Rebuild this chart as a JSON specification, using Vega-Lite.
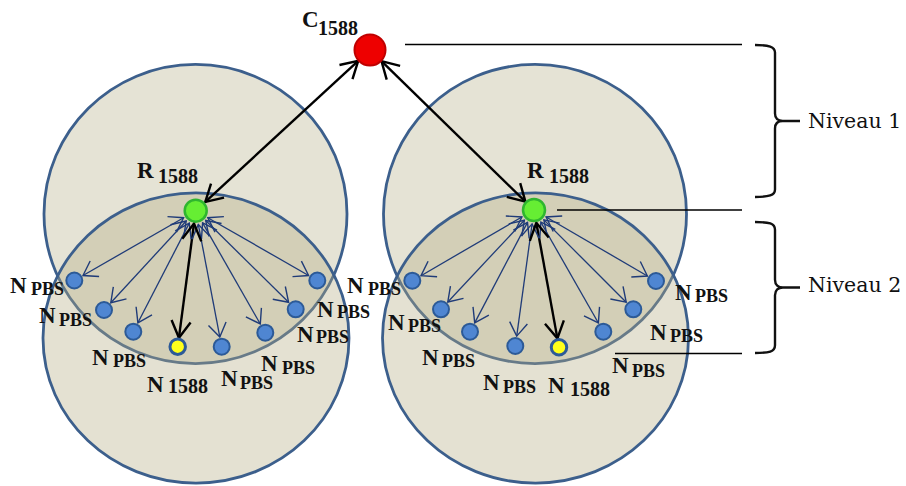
{
  "$schema": "https://vega.github.io/schema/vega-lite/v6.json",
  "width": 906,
  "height": 486,
  "padding": 0,
  "autosize": {"type": "none"},
  "background": "white",
  "config": {"view": {"stroke": null}},
  "datasets": {
    "circles": [
      {"g": "L", "part": "upper", "x": 195.5, "y": 214},
      {"g": "R", "part": "upper", "x": 535, "y": 214},
      {"g": "L", "part": "lower", "x": 196, "y": 338},
      {"g": "R", "part": "lower", "x": 535.5, "y": 338}
    ],
    "edges": [
      {"kind": "navy", "x1": 183.6, "y1": 217.7, "x2": 83.0, "y2": 275.5},
      {"kind": "navy", "x1": 186.2, "y1": 221.0, "x2": 110.8, "y2": 302.7},
      {"kind": "navy", "x1": 189.3, "y1": 223.1, "x2": 137.9, "y2": 322.8},
      {"kind": "navy", "x1": 198.3, "y1": 224.4, "x2": 219.8, "y2": 336.9},
      {"kind": "navy", "x1": 202.6, "y1": 222.9, "x2": 260.3, "y2": 324.0},
      {"kind": "navy", "x1": 205.7, "y1": 220.5, "x2": 288.6, "y2": 302.3},
      {"kind": "navy", "x1": 207.8, "y1": 217.7, "x2": 308.6, "y2": 275.5},
      {"kind": "navy", "x1": 521.9, "y1": 217.0, "x2": 421.0, "y2": 275.7},
      {"kind": "navy", "x1": 524.4, "y1": 220.2, "x2": 447.8, "y2": 302.0},
      {"kind": "navy", "x1": 527.5, "y1": 222.4, "x2": 474.7, "y2": 322.9},
      {"kind": "navy", "x1": 532.1, "y1": 223.9, "x2": 516.7, "y2": 336.1},
      {"kind": "navy", "x1": 540.9, "y1": 222.2, "x2": 598.4, "y2": 323.0},
      {"kind": "navy", "x1": 543.9, "y1": 219.9, "x2": 626.2, "y2": 302.2},
      {"kind": "navy", "x1": 546.1, "y1": 217.0, "x2": 647.4, "y2": 276.0},
      {"kind": "black", "x1": 194.0, "y1": 223.6, "x2": 178.9, "y2": 337.8},
      {"kind": "black", "x1": 536.3, "y1": 222.8, "x2": 557.4, "y2": 338.4},
      {"kind": "black", "x1": 358.2, "y1": 60.8, "x2": 205.3, "y2": 201.9},
      {"kind": "black", "x1": 381.5, "y1": 61.2, "x2": 525.4, "y2": 201.6}
    ],
    "hlines": [
      {"x1": 405, "y1": 44.5, "x2": 742, "y2": 44.5},
      {"x1": 557, "y1": 210, "x2": 742, "y2": 210},
      {"x1": 615, "y1": 353.5, "x2": 742, "y2": 353.5}
    ],
    "nodes": [
      {"type": "pbs", "x": 74.3, "y": 280.5},
      {"type": "pbs", "x": 104, "y": 310},
      {"type": "pbs", "x": 133.3, "y": 331.7},
      {"type": "pbs", "x": 221.7, "y": 346.7},
      {"type": "pbs", "x": 265.3, "y": 332.7},
      {"type": "pbs", "x": 295.7, "y": 309.3},
      {"type": "pbs", "x": 317.3, "y": 280.5},
      {"type": "pbs", "x": 412.3, "y": 280.7},
      {"type": "pbs", "x": 441, "y": 309.3},
      {"type": "pbs", "x": 470, "y": 331.7},
      {"type": "pbs", "x": 515.3, "y": 346},
      {"type": "pbs", "x": 603.3, "y": 331.7},
      {"type": "pbs", "x": 633.3, "y": 309.3},
      {"type": "pbs", "x": 656, "y": 281},
      {"type": "n1588", "x": 177.7, "y": 346.7},
      {"type": "n1588", "x": 559, "y": 347.3},
      {"type": "r", "x": 195.7, "y": 210.7},
      {"type": "r", "x": 534, "y": 210},
      {"type": "c", "x": 370, "y": 50}
    ],
    "braces": [
      {"id": 1, "x": 775, "y": 121},
      {"id": 2, "x": 775, "y": 287.5}
    ],
    "labels": [
      {"t": "N", "r": "main", "x": 10, "y": 293}, {"t": "PBS", "r": "sub", "x": 31, "y": 295},
      {"t": "N", "r": "main", "x": 39, "y": 323}, {"t": "PBS", "r": "sub", "x": 59, "y": 326},
      {"t": "N", "r": "main", "x": 92, "y": 365}, {"t": "PBS", "r": "sub", "x": 113, "y": 367},
      {"t": "N", "r": "main", "x": 147, "y": 392}, {"t": "1588", "r": "num", "x": 168, "y": 393},
      {"t": "N", "r": "main", "x": 221, "y": 386}, {"t": "PBS", "r": "sub", "x": 240, "y": 389},
      {"t": "N", "r": "main", "x": 261, "y": 371}, {"t": "PBS", "r": "sub", "x": 282, "y": 374},
      {"t": "N", "r": "main", "x": 297, "y": 342}, {"t": "PBS", "r": "sub", "x": 316, "y": 343},
      {"t": "N", "r": "main", "x": 317, "y": 317}, {"t": "PBS", "r": "sub", "x": 337, "y": 318},
      {"t": "N", "r": "main", "x": 347, "y": 293}, {"t": "PBS", "r": "sub", "x": 368, "y": 295},
      {"t": "N", "r": "main", "x": 388, "y": 330}, {"t": "PBS", "r": "sub", "x": 408, "y": 332},
      {"t": "N", "r": "main", "x": 422, "y": 365}, {"t": "PBS", "r": "sub", "x": 442, "y": 367},
      {"t": "N", "r": "main", "x": 483, "y": 390}, {"t": "PBS", "r": "sub", "x": 503, "y": 393},
      {"t": "N", "r": "main", "x": 548, "y": 393}, {"t": "1588", "r": "num", "x": 570, "y": 396},
      {"t": "N", "r": "main", "x": 612, "y": 373}, {"t": "PBS", "r": "sub", "x": 632, "y": 377},
      {"t": "N", "r": "main", "x": 650, "y": 340}, {"t": "PBS", "r": "sub", "x": 670, "y": 342},
      {"t": "N", "r": "main", "x": 675, "y": 300}, {"t": "PBS", "r": "sub", "x": 695, "y": 302},
      {"t": "R", "r": "main", "x": 137, "y": 178}, {"t": "1588", "r": "num", "x": 158, "y": 183},
      {"t": "R", "r": "main", "x": 527, "y": 178}, {"t": "1588", "r": "num", "x": 549, "y": 183},
      {"t": "C", "r": "main", "x": 302, "y": 27}, {"t": "1588", "r": "num", "x": 318, "y": 35},
      {"t": "Niveau 1", "r": "level", "x": 808, "y": 128},
      {"t": "Niveau 2", "r": "level", "x": 808, "y": 292}
    ]
  },
  "layer": [
    {
      "data": {"name": "circles"},
      "transform": [{"filter": "datum.part === 'upper'"}],
      "mark": {"type": "point", "shape": "M -1 0 C -1 -0.545 -0.5523 -0.987 0 -0.987 C 0.5523 -0.987 1 -0.545 1 0 C 1 0.545 0.5523 0.987 0 0.987 C -0.5523 0.987 -1 0.545 -1 0 Z", "size": 91809, "filled": true, "fill": "#e5e3d5", "stroke": "#3c5f8c", "strokeWidth": 2.8, "opacity": 1},
      "encoding": {
        "x": {"field": "x", "type": "quantitative", "scale": {"domain": [0, 906], "nice": false, "zero": false}, "axis": null},
        "y": {"field": "y", "type": "quantitative", "scale": {"domain": [0, 486], "nice": false, "zero": false, "reverse": true}, "axis": null}
      }
    },
    {
      "data": {"name": "circles"},
      "transform": [{"filter": "datum.part === 'lower'"}],
      "mark": {"type": "point", "shape": "M -1 0 C -1 -0.5236 -0.5523 -0.948 0 -0.948 C 0.5523 -0.948 1 -0.5236 1 0 C 1 0.5236 0.5523 0.948 0 0.948 C -0.5523 0.948 -1 0.5236 -1 0 Z", "size": 93636, "filled": true, "fill": "#b3ab82", "fillOpacity": 0.36, "stroke": "#3c5f8c", "strokeOpacity": 1, "strokeWidth": 2.8, "opacity": 1},
      "encoding": {
        "x": {"field": "x", "type": "quantitative"},
        "y": {"field": "y", "type": "quantitative"}
      }
    },
    {
      "data": {"name": "edges"},
      "transform": [{"filter": "datum.kind === 'navy'"}],
      "mark": {"type": "rule", "color": "#1f3b78", "strokeWidth": 1.3},
      "encoding": {
        "x": {"field": "x1", "type": "quantitative"},
        "y": {"field": "y1", "type": "quantitative"},
        "x2": {"field": "x2"},
        "y2": {"field": "y2"}
      }
    },
    {
      "data": {"name": "edges"},
      "transform": [{"filter": "datum.kind === 'black'"}],
      "mark": {"type": "rule", "color": "#000000", "strokeWidth": 2.4},
      "encoding": {
        "x": {"field": "x1", "type": "quantitative"},
        "y": {"field": "y1", "type": "quantitative"},
        "x2": {"field": "x2"},
        "y2": {"field": "y2"}
      }
    },
    {
      "data": {"name": "hlines"},
      "mark": {"type": "rule", "color": "#000000", "strokeWidth": 1.3},
      "encoding": {
        "x": {"field": "x1", "type": "quantitative"},
        "y": {"field": "y1", "type": "quantitative"},
        "x2": {"field": "x2"},
        "y2": {"field": "y2"}
      }
    },
    {
      "data": {"name": "edges"},
      "transform": [
        {"filter": "datum.kind === 'navy'"},
        {"calculate": "atan2(datum.x2 - datum.x1, datum.y1 - datum.y2) * 180 / PI", "as": "a"}
      ],
      "mark": {"type": "point", "shape": "M -0.8 1.2 L 0 0 L 0.8 1.2", "size": 500, "filled": false, "stroke": "#1f3b78", "strokeWidth": 1.4, "opacity": 1},
      "encoding": {
        "x": {"field": "x2", "type": "quantitative"},
        "y": {"field": "y2", "type": "quantitative"},
        "angle": {"field": "a", "type": "quantitative", "scale": null}
      }
    },
    {
      "data": {"name": "edges"},
      "transform": [
        {"filter": "datum.kind === 'navy'"},
        {"calculate": "atan2(datum.x1 - datum.x2, datum.y2 - datum.y1) * 180 / PI", "as": "a"}
      ],
      "mark": {"type": "point", "shape": "M -0.8 1.2 L 0 0 L 0.8 1.2", "size": 500, "filled": false, "stroke": "#1f3b78", "strokeWidth": 1.4, "opacity": 1},
      "encoding": {
        "x": {"field": "x1", "type": "quantitative"},
        "y": {"field": "y1", "type": "quantitative"},
        "angle": {"field": "a", "type": "quantitative", "scale": null}
      }
    },
    {
      "data": {"name": "edges"},
      "transform": [
        {"filter": "datum.kind === 'black'"},
        {"calculate": "atan2(datum.x2 - datum.x1, datum.y1 - datum.y2) * 180 / PI", "as": "a"}
      ],
      "mark": {"type": "point", "shape": "M -0.8 1.386 L 0 0 L 0.8 1.386", "size": 576, "filled": false, "stroke": "#000000", "strokeWidth": 2.4, "opacity": 1},
      "encoding": {
        "x": {"field": "x2", "type": "quantitative"},
        "y": {"field": "y2", "type": "quantitative"},
        "angle": {"field": "a", "type": "quantitative", "scale": null}
      }
    },
    {
      "data": {"name": "edges"},
      "transform": [
        {"filter": "datum.kind === 'black'"},
        {"calculate": "atan2(datum.x1 - datum.x2, datum.y2 - datum.y1) * 180 / PI", "as": "a"}
      ],
      "mark": {"type": "point", "shape": "M -0.8 1.386 L 0 0 L 0.8 1.386", "size": 576, "filled": false, "stroke": "#000000", "strokeWidth": 2.4, "opacity": 1},
      "encoding": {
        "x": {"field": "x1", "type": "quantitative"},
        "y": {"field": "y1", "type": "quantitative"},
        "angle": {"field": "a", "type": "quantitative", "scale": null}
      }
    },
    {
      "data": {"name": "nodes"},
      "transform": [{"filter": "datum.type === 'pbs'"}],
      "mark": {"type": "point", "shape": "circle", "size": 256, "filled": true, "fill": "#4f86d2", "stroke": "#2c5a97", "strokeWidth": 2, "opacity": 1},
      "encoding": {
        "x": {"field": "x", "type": "quantitative"},
        "y": {"field": "y", "type": "quantitative"}
      }
    },
    {
      "data": {"name": "nodes"},
      "transform": [{"filter": "datum.type === 'n1588'"}],
      "mark": {"type": "point", "shape": "circle", "size": 240, "filled": true, "fill": "#ffff1a", "stroke": "#2c5a97", "strokeWidth": 3, "opacity": 1},
      "encoding": {
        "x": {"field": "x", "type": "quantitative"},
        "y": {"field": "y", "type": "quantitative"}
      }
    },
    {
      "data": {"name": "nodes"},
      "transform": [{"filter": "datum.type === 'r'"}],
      "mark": {"type": "point", "shape": "circle", "size": 484, "filled": true, "fill": "#66ee33", "stroke": "#2fb52f", "strokeWidth": 2.5, "opacity": 1},
      "encoding": {
        "x": {"field": "x", "type": "quantitative"},
        "y": {"field": "y", "type": "quantitative"}
      }
    },
    {
      "data": {"name": "nodes"},
      "transform": [{"filter": "datum.type === 'c'"}],
      "mark": {"type": "point", "shape": "circle", "size": 961, "filled": true, "fill": "#ee0000", "stroke": "#c00000", "strokeWidth": 2, "opacity": 1},
      "encoding": {
        "x": {"field": "x", "type": "quantitative"},
        "y": {"field": "y", "type": "quantitative"}
      }
    },
    {
      "data": {"name": "braces"},
      "transform": [{"filter": "datum.id === 1"}],
      "mark": {"type": "point", "shape": "M -0.263 -1 C -0.08 -1 0 -0.98 0 -0.9 L 0 -0.1 C 0 -0.03 0.04 0 0.1 0 L 0.329 0 M 0.1 0 C 0.04 0 0 0.03 0 0.1 L 0 0.9 C 0 0.98 -0.08 1 -0.263 1", "size": 23104, "filled": false, "stroke": "#111111", "strokeWidth": 2.4, "opacity": 1},
      "encoding": {
        "x": {"field": "x", "type": "quantitative"},
        "y": {"field": "y", "type": "quantitative"}
      }
    },
    {
      "data": {"name": "braces"},
      "transform": [{"filter": "datum.id === 2"}],
      "mark": {"type": "point", "shape": "M -0.305 -1 C -0.09 -1 0 -0.98 0 -0.88 L 0 -0.12 C 0 -0.04 0.05 0 0.12 0 L 0.382 0 M 0.12 0 C 0.05 0 0 0.04 0 0.12 L 0 0.88 C 0 0.98 -0.09 1 -0.305 1", "size": 17161, "filled": false, "stroke": "#111111", "strokeWidth": 2.4, "opacity": 1},
      "encoding": {
        "x": {"field": "x", "type": "quantitative"},
        "y": {"field": "y", "type": "quantitative"}
      }
    },
    {
      "data": {"name": "labels"},
      "transform": [{"filter": "datum.r === 'main'"}],
      "mark": {"type": "text", "align": "left", "baseline": "alphabetic", "font": "Liberation Serif", "fontWeight": "bold", "fontSize": 23, "color": "#111111"},
      "encoding": {
        "x": {"field": "x", "type": "quantitative"},
        "y": {"field": "y", "type": "quantitative"},
        "text": {"field": "t"}
      }
    },
    {
      "data": {"name": "labels"},
      "transform": [{"filter": "datum.r === 'sub'"}],
      "mark": {"type": "text", "align": "left", "baseline": "alphabetic", "font": "Liberation Serif", "fontWeight": "bold", "fontSize": 18, "color": "#111111"},
      "encoding": {
        "x": {"field": "x", "type": "quantitative"},
        "y": {"field": "y", "type": "quantitative"},
        "text": {"field": "t"}
      }
    },
    {
      "data": {"name": "labels"},
      "transform": [{"filter": "datum.r === 'num'"}],
      "mark": {"type": "text", "align": "left", "baseline": "alphabetic", "font": "Liberation Serif", "fontWeight": "bold", "fontSize": 20, "color": "#111111"},
      "encoding": {
        "x": {"field": "x", "type": "quantitative"},
        "y": {"field": "y", "type": "quantitative"},
        "text": {"field": "t"}
      }
    },
    {
      "data": {"name": "labels"},
      "transform": [{"filter": "datum.r === 'level'"}],
      "mark": {"type": "text", "align": "left", "baseline": "alphabetic", "font": "DejaVu Serif", "fontSize": 20.5, "color": "#111111"},
      "encoding": {
        "x": {"field": "x", "type": "quantitative"},
        "y": {"field": "y", "type": "quantitative"},
        "text": {"field": "t"}
      }
    }
  ]
}
